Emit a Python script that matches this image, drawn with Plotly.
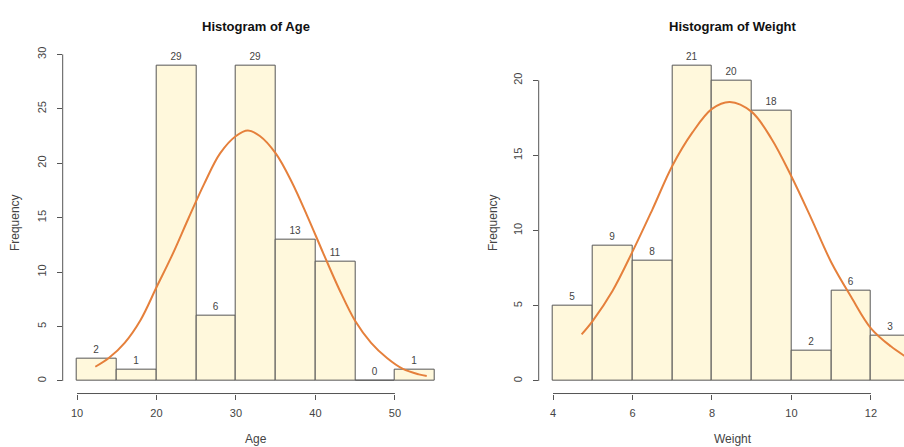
import plotly.graph_objects as go

# ---- data ----
age_bin_starts = [10, 15, 20, 25, 30, 35, 40, 45, 50]
age_counts = [2, 1, 29, 6, 29, 13, 11, 0, 1]
age_bin_width = 5
age_curve_x = [12.3, 14, 16, 18, 20, 22, 24, 26, 28, 30, 31.5, 33, 35, 37, 39, 41, 43, 45, 47, 49, 51, 53, 54]
age_curve_y = [1.3, 2.1, 3.5, 5.6, 8.6, 11.6, 14.9, 18.1, 20.9, 22.5, 23.0, 22.5, 20.9, 18.3, 15.1, 11.7, 8.4, 5.5, 3.5, 2.1, 1.1, 0.6, 0.45]
age_xticks = [10, 20, 30, 40, 50]
age_yticks = [0, 5, 10, 15, 20, 25, 30]

weight_bin_starts = [4, 5, 6, 7, 8, 9, 10, 11, 12]
weight_counts = [5, 9, 8, 21, 20, 18, 2, 6, 3]
weight_bin_width = 1
weight_curve_x = [4.72, 5, 5.5, 6, 6.5, 7, 7.5, 8, 8.45, 9, 9.5, 10, 10.5, 11, 11.5, 12, 12.5, 13]
weight_curve_y = [3.1, 4.0, 6.0, 8.6, 11.4, 14.3, 16.5, 18.1, 18.56, 17.9, 16.1, 13.6, 10.8, 7.9, 5.6, 3.5, 2.3, 1.4]
weight_xticks = [4, 6, 8, 10, 12]
weight_yticks = [0, 5, 10, 15, 20]

# ---- style / layout ----
W, H = 904, 447
FONT = "Liberation Sans, Arial, sans-serif"
FILL = "#FFF8DC"
EDGE = "#555555"
CURVE = "#E5803C"
TXT = "#444444"

def px_x(p):
    return p / W

def px_y(p):
    return 1 - p / H

y_dom = [px_y(392.8), px_y(47.3)]
left_dom = [px_x(62.7), px_x(449)]
right_dom = [px_x(538.7), 1.0]

def pad_range(lo, hi):
    d = (hi - lo) * 0.04
    return [lo - d, hi + d]

age_xr = pad_range(age_bin_starts[0], age_bin_starts[-1] + age_bin_width)
age_yr = pad_range(0, max(age_counts))
w_xr_full = pad_range(weight_bin_starts[0], weight_bin_starts[-1] + weight_bin_width)
w_px_per = (925.0 - 538.7) / (w_xr_full[1] - w_xr_full[0])
w_xr = [w_xr_full[0], w_xr_full[0] + (W - 538.7) / w_px_per]
w_yr = pad_range(0, max(weight_counts))

fig = go.Figure()

def add_hist(starts, counts, bw, cx, cy, xa, ya):
    tf = dict(family=FONT, size=10, color=TXT)
    fig.add_trace(go.Bar(
        x=[s + bw / 2 for s in starts], y=counts, width=bw,
        marker=dict(color=FILL, line=dict(color=EDGE, width=1)),
        text=[str(c) for c in counts], textposition="outside",
        textfont=tf, outsidetextfont=tf, insidetextfont=tf,
        constraintext="none", cliponaxis=False,
        xaxis=xa, yaxis=ya, showlegend=False, hoverinfo="skip"))
    fig.add_trace(go.Scatter(
        x=cx, y=cy, mode="lines", line=dict(color=CURVE, width=2, shape="spline"),
        xaxis=xa, yaxis=ya, showlegend=False, hoverinfo="skip"))

add_hist(age_bin_starts, age_counts, age_bin_width, age_curve_x, age_curve_y, "x", "y")
add_hist(weight_bin_starts, weight_counts, weight_bin_width, weight_curve_x, weight_curve_y, "x2", "y2")

xcommon = dict(showgrid=False, zeroline=False, showline=False, ticks="outside",
               ticklen=5, tickwidth=1, tickcolor=EDGE,
               tickfont=dict(family=FONT, size=11, color=TXT), ticklabelstandoff=4)
ycommon = dict(showgrid=False, zeroline=False, showline=False, ticks="outside",
               ticklen=5, tickwidth=1, tickcolor=EDGE, tickangle=-90,
               tickfont=dict(family=FONT, size=11, color=TXT), ticklabelstandoff=6)

fig.update_layout(
    width=W, height=H, autosize=False,
    margin=dict(l=0, r=0, t=0, b=0),
    paper_bgcolor="white", plot_bgcolor="white",
    bargap=0,
    xaxis=dict(domain=left_dom, range=age_xr, anchor="y", tickvals=age_xticks, **xcommon),
    yaxis=dict(domain=y_dom, range=age_yr, anchor="x", tickvals=age_yticks, **ycommon),
    xaxis2=dict(domain=right_dom, range=w_xr, anchor="y2", tickvals=weight_xticks, **xcommon),
    yaxis2=dict(domain=y_dom, range=w_yr, anchor="x2", tickvals=weight_yticks, **ycommon),
)

shapes = []
for xa, ya, xt, yt, dom in [("x", "y", age_xticks, age_yticks, left_dom),
                            ("x2", "y2", weight_xticks, weight_yticks, right_dom)]:
    shapes.append(dict(type="line", xref=xa, yref="paper", x0=xt[0], x1=xt[-1],
                       y0=y_dom[0], y1=y_dom[0], line=dict(color=EDGE, width=1)))
    shapes.append(dict(type="line", xref="paper", yref=ya, x0=dom[0], x1=dom[0],
                       y0=yt[0], y1=yt[-1], line=dict(color=EDGE, width=1)))
fig.update_layout(shapes=shapes)

ann = []
for title, xlab, dom, xlab_x, ylab_px in [("Histogram of Age", "Age", left_dom, None, 15),
                                          ("Histogram of Weight", "Weight", right_dom, 733, 493)]:
    cx = (dom[0] + dom[1]) / 2 if xlab_x is None else px_x(xlab_x)
    ann.append(dict(text="<b>" + title + "</b>", x=cx, y=px_y(21), xref="paper", yref="paper",
                    showarrow=False, xanchor="center", yanchor="middle",
                    font=dict(family=FONT, size=13, color="#111111")))
    ann.append(dict(text=xlab, x=cx, y=px_y(439), xref="paper", yref="paper",
                    showarrow=False, xanchor="center", yanchor="middle",
                    font=dict(family=FONT, size=12, color=TXT)))
    ann.append(dict(text="Frequency", x=px_x(ylab_px), y=(y_dom[0] + y_dom[1]) / 2,
                    xref="paper", yref="paper", textangle=-90,
                    showarrow=False, xanchor="center", yanchor="middle",
                    font=dict(family=FONT, size=12, color=TXT)))
fig.update_layout(annotations=ann)

fig.write_html("out.html",
               config={"displayModeBar": False},
               post_script="document.body.style.margin='0';document.body.style.overflow='hidden';")
